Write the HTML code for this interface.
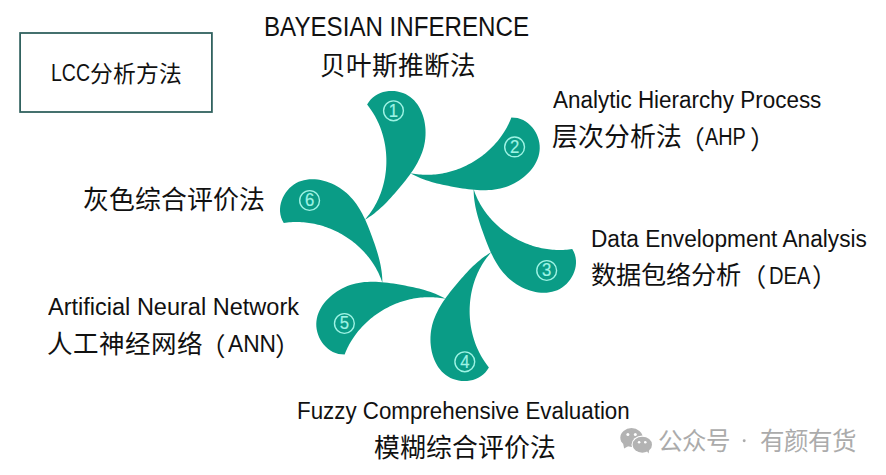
<!DOCTYPE html>
<html lang="zh-CN"><head><meta charset="utf-8">
<style>
html,body{margin:0;padding:0;background:#fff;}
body{width:886px;height:475px;position:relative;overflow:hidden;font-family:"Liberation Sans",sans-serif;color:#111;}
.t{position:absolute;white-space:nowrap;line-height:1;}
svg{position:absolute;left:0;top:0;}
</style></head><body>
<svg width="886" height="475" viewBox="0 0 886 475">
<defs><path id="p" d="M367.10 104.60 L368.77 101.89 L370.69 99.50 L372.84 97.42 L375.18 95.64 L377.69 94.16 L380.34 92.97 L383.09 92.05 L385.92 91.42 L388.80 91.05 L391.71 90.94 L394.60 91.09 L397.46 91.49 L400.26 92.13 L402.96 93.00 L405.54 94.10 L407.97 95.42 L410.24 96.94 L412.34 98.66 L414.30 100.56 L416.09 102.63 L417.72 104.85 L419.20 107.21 L420.53 109.69 L421.69 112.28 L422.71 114.97 L423.57 117.74 L424.27 120.58 L424.82 123.47 L425.22 126.41 L425.47 129.36 L425.56 132.33 L425.51 135.30 L425.30 138.25 L424.95 141.17 L424.44 144.05 L423.80 146.88 L423.01 149.67 L422.10 152.41 L421.07 155.10 L419.93 157.75 L418.68 160.36 L417.34 162.94 L415.90 165.47 L414.39 167.97 L412.80 170.43 L411.15 172.86 L409.44 175.26 L407.68 177.62 L405.88 179.96 L404.05 182.27 L402.19 184.55 L400.31 186.81 L398.43 189.05 L396.54 191.26 L394.64 193.45 L392.74 195.61 L390.83 197.74 L388.89 199.84 L386.93 201.91 L384.94 203.94 L382.90 205.93 L380.82 207.87 L378.69 209.77 L376.51 211.62 L374.26 213.41 L371.94 215.15 L369.54 216.83 L367.06 218.45 L364.50 220.00 L365.72 218.64 L366.90 217.26 L368.04 215.85 L369.15 214.41 L370.23 212.95 L371.27 211.47 L372.28 209.97 L373.25 208.44 L374.19 206.90 L375.09 205.33 L375.95 203.75 L376.79 202.14 L377.58 200.52 L378.35 198.88 L379.08 197.23 L379.77 195.56 L380.43 193.88 L381.05 192.18 L381.64 190.47 L382.20 188.74 L382.72 187.00 L383.20 185.26 L383.65 183.50 L384.07 181.73 L384.45 179.96 L384.80 178.17 L385.11 176.38 L385.39 174.59 L385.63 172.78 L385.84 170.98 L386.01 169.16 L386.15 167.35 L386.26 165.53 L386.33 163.71 L386.36 161.89 L386.36 160.07 L386.33 158.24 L386.26 156.42 L386.16 154.60 L386.02 152.79 L385.85 150.98 L385.64 149.17 L385.40 147.36 L385.13 145.56 L384.82 143.77 L384.48 141.99 L384.10 140.21 L383.69 138.44 L383.24 136.68 L382.76 134.93 L382.24 133.19 L381.69 131.46 L381.11 129.75 L380.49 128.05 L379.84 126.36 L379.15 124.69 L378.43 123.03 L377.67 121.39 L376.88 119.76 L376.06 118.15 L375.20 116.56 L374.31 114.99 L373.38 113.44 L372.42 111.91 L371.42 110.41 L370.39 108.92 L369.33 107.46 L368.23 106.02Z"/></defs>
<rect x="20.1" y="33" width="191.8" height="79" fill="none" stroke="#31625f" stroke-width="1.8"/>
<g fill="#0a9c86">
<use href="#p" transform="rotate(0 428 236)"/>
<use href="#p" transform="rotate(60 428 236)"/>
<use href="#p" transform="rotate(120 428 236)"/>
<use href="#p" transform="rotate(180 428 236)"/>
<use href="#p" transform="rotate(240 428 236)"/>
<use href="#p" transform="rotate(300 428 236)"/>
</g>
<g font-family="Liberation Sans" font-size="18.6" fill="#9ef3e4" stroke="#9ef3e4" stroke-width="0.2">
<circle cx="393.5" cy="110.8" r="9.9" fill="none" stroke="#9ef3e4" stroke-width="1.4"/><text transform="translate(393.5 116.50) scale(0.9 1)" text-anchor="middle">1</text>
<circle cx="514.6" cy="146.9" r="9.9" fill="none" stroke="#9ef3e4" stroke-width="1.4"/><text transform="translate(514.6 152.60) scale(0.9 1)" text-anchor="middle">2</text>
<circle cx="546.7" cy="270.5" r="9.9" fill="none" stroke="#9ef3e4" stroke-width="1.4"/><text transform="translate(546.7 276.20) scale(0.9 1)" text-anchor="middle">3</text>
<circle cx="464.8" cy="361.8" r="9.9" fill="none" stroke="#9ef3e4" stroke-width="1.4"/><text transform="translate(464.8 367.50) scale(0.9 1)" text-anchor="middle">4</text>
<circle cx="344.4" cy="323.5" r="9.9" fill="none" stroke="#9ef3e4" stroke-width="1.4"/><text transform="translate(344.4 329.20) scale(0.9 1)" text-anchor="middle">5</text>
<circle cx="309.6" cy="200.5" r="9.9" fill="none" stroke="#9ef3e4" stroke-width="1.4"/><text transform="translate(309.6 206.20) scale(0.9 1)" text-anchor="middle">6</text>
</g>
<g fill="#b3b3b3">
<ellipse cx="631.5" cy="437.6" rx="11.2" ry="9.5"/>
<path d="M623.2 444 L624.1 448.6 L628.5 446 Z"/>
<ellipse cx="642.3" cy="444.7" rx="10.8" ry="9.1" fill="#fff"/>
<ellipse cx="642.3" cy="444.7" rx="9.7" ry="8"/>
<path d="M646 450 L648.6 453.6 L649.2 449.5 Z"/>
<circle cx="744.2" cy="440.8" r="1.45" fill="#ababab"/>
<g fill="#fff"><circle cx="627.9" cy="434.5" r="1.5"/><circle cx="635.3" cy="434.5" r="1.5"/><circle cx="639.1" cy="442.3" r="1.3"/><circle cx="645.3" cy="442.3" r="1.3"/></g>
</g>
</svg>
<div class="t" style="left:51.42px;top:61.0px;font-size:24.71px;transform:scaleX(0.7902);transform-origin:0 0;">LCC</div>
<div class="t" style="left:89.8px;top:62.6px;font-size:22.78px;">分析方法</div>
<div class="t" style="left:264.24px;top:13.0px;font-size:27.41px;transform:scaleX(0.8805);transform-origin:0 0;">BAYESIAN INFERENCE</div>
<div class="t" style="left:319.9px;top:54.4px;font-size:25.63px;">贝叶斯推断法</div>
<div class="t" style="left:553.0px;top:88.6px;font-size:23.3px;transform:scaleX(0.964);transform-origin:0 0;">Analytic Hierarchy Process</div>
<div class="t" style="left:552.0px;top:125.0px;font-size:25.84px;">层次分析法</div>
<div class="t" style="left:678.5px;top:128.0px;font-size:25.84px;">（</div>
<div class="t" style="left:705.3px;top:126.1px;font-size:23.3px;transform:scaleX(0.8532);transform-origin:0 0;">AHP</div>
<div class="t" style="left:750.1px;top:128.0px;font-size:25.84px;">）</div>
<div class="t" style="left:82.7px;top:187.95px;font-size:25.9px;">灰色综合评价法</div>
<div class="t" style="left:590.55px;top:227.7px;font-size:23.3px;transform:scaleX(0.9726);transform-origin:0 0;">Data Envelopment Analysis</div>
<div class="t" style="left:591.2px;top:263.4px;font-size:25.2px;">数据包络分析</div>
<div class="t" style="left:741.4px;top:266.4px;font-size:25.2px;">（</div>
<div class="t" style="left:769.17px;top:264.8px;font-size:23.3px;transform:scaleX(0.8674);transform-origin:0 0;">DEA</div>
<div class="t" style="left:811.6px;top:266.4px;font-size:25.2px;">）</div>
<div class="t" style="left:48.0px;top:295.5px;font-size:23.3px;transform:scaleX(1.0097);transform-origin:0 0;">Artificial Neural Network</div>
<div class="t" style="left:46.5px;top:332.25px;font-size:25.53px;">人工神经网络</div>
<div class="t" style="left:200.4px;top:335.25px;font-size:25.53px;">（</div>
<div class="t" style="left:227.8px;top:333.1px;font-size:23.3px;transform:scaleX(0.9766);transform-origin:0 0;">ANN</div>
<div class="t" style="left:274.5px;top:335.25px;font-size:25.53px;">）</div>
<div class="t" style="left:297.28px;top:399.8px;font-size:23.3px;transform:scaleX(0.9587);transform-origin:0 0;">Fuzzy Comprehensive Evaluation</div>
<div class="t" style="left:374.0px;top:435.75px;font-size:25.83px;">模糊综合评价法</div>
<div class="t" style="left:658px;top:429.5px;font-size:24.5px;color:#ababab;">公众号</div>
<div class="t" style="left:760px;top:430px;font-size:24.5px;color:#ababab;">有颜有货</div>
</body></html>
